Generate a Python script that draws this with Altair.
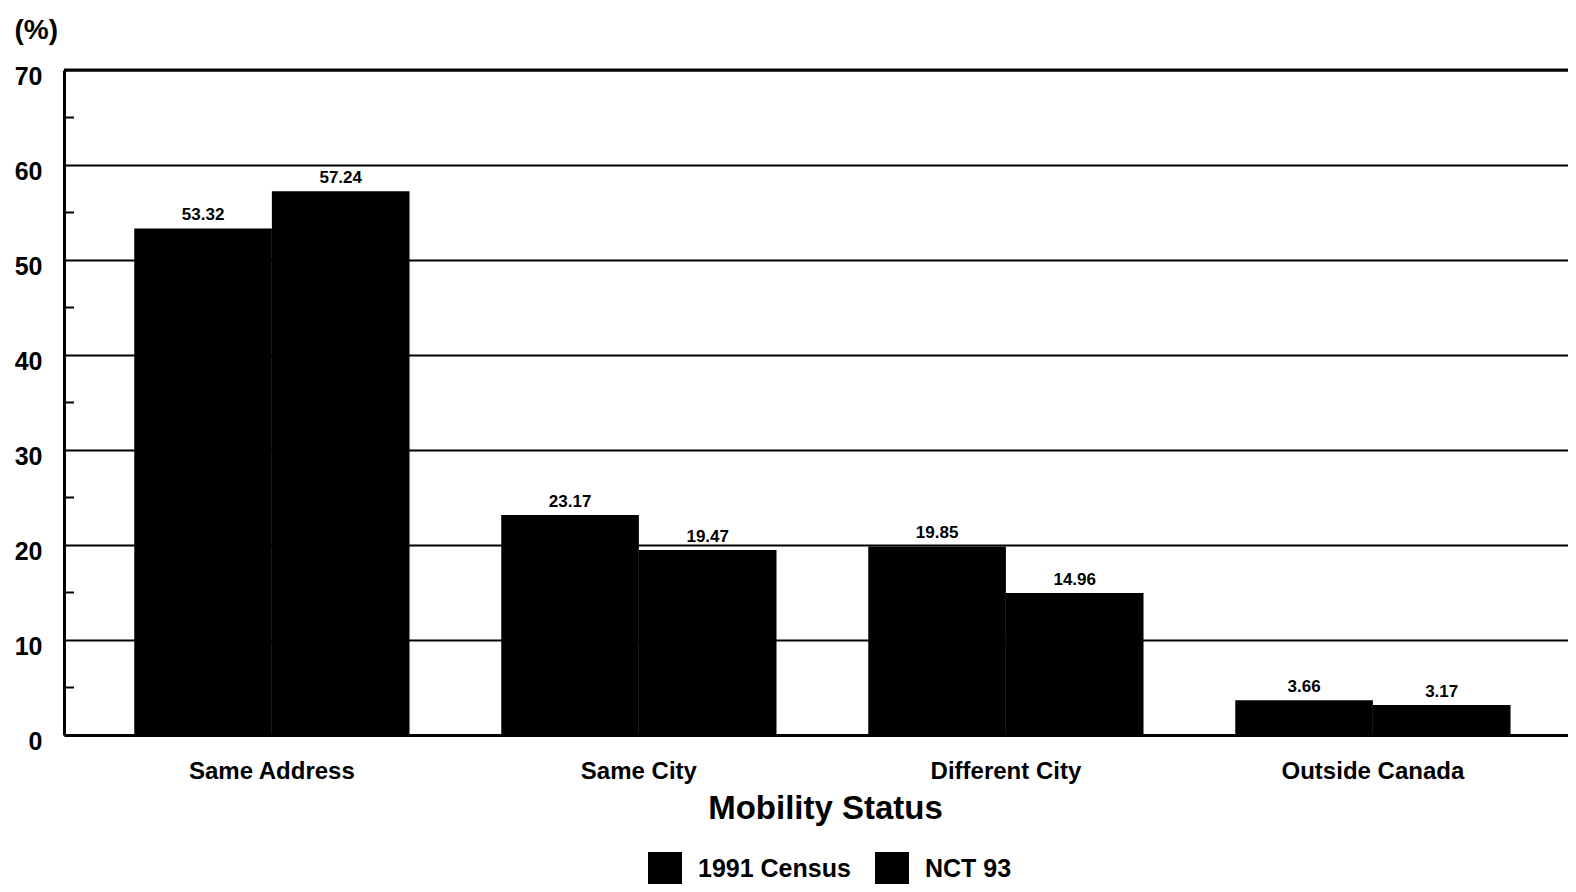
import altair as alt
import pandas as pd

categories = ["Same Address", "Same City", "Different City", "Outside Canada"]
series = ["1991 Census", "NCT 93"]
census_1991 = [53.32, 23.17, 19.85, 3.66]
nct_93 = [57.24, 19.47, 14.96, 3.17]
y_ticks = [0, 10, 20, 30, 40, 50, 60, 70]
minor_ticks = [5, 15, 25, 35, 45, 55, 65]
top_line = [70]

rows = []
for c, a, b in zip(categories, census_1991, nct_93):
    rows.append({"status": c, "series": series[0], "value": a, "label": f"{a:.2f}"})
    rows.append({"status": c, "series": series[1], "value": b, "label": f"{b:.2f}"})
df = pd.DataFrame(rows)

FONT = "Liberation Sans"

x_enc = alt.X(
    "status:N",
    sort=categories,
    scale=alt.Scale(paddingInner=0.25, paddingOuter=0.174, align=0.55),
    axis=alt.Axis(
        title="Mobility Status",
        labelAngle=0,
        labelFont=FONT,
        labelFontSize=24,
        labelFontWeight="bold",
        labelColor="black",
        labelPadding=24,
        labelLimit=0,
        ticks=False,
        domain=True,
        domainColor="black",
        domainWidth=3,
        titleFont=FONT,
        titleFontSize=33,
        titleFontWeight="bold",
        titleColor="black",
        titlePadding=9,
        titleX=761,
    ),
)
xo_enc = alt.XOffset("series:N", sort=series, scale=alt.Scale(paddingInner=0, paddingOuter=0))
y_scale = alt.Scale(domain=[0, 70], nice=False)
y_enc = alt.Y(
    "value:Q",
    scale=y_scale,
    axis=alt.Axis(
        values=y_ticks,
        title="(%)",
        titleAngle=0,
        titleX=-50,
        titleY=-32,
        titleAlign="left",
        titleBaseline="alphabetic",
        titleFont=FONT,
        titleFontSize=28,
        titleFontWeight="bold",
        titleColor="black",
        labelFont=FONT,
        labelFontSize=25,
        labelFontWeight="bold",
        labelColor="black",
        labelPadding=22,
        labelOffset=6,
        ticks=False,
        tickSize=0,
        domain=True,
        domainColor="black",
        domainWidth=3,
        grid=True,
        gridColor="black",
        gridWidth=2,
        gridOpacity=1,
    ),
)

base = alt.Chart(df)

bars = base.mark_bar(color="black").encode(
    x=x_enc,
    xOffset=xo_enc,
    y=y_enc,
    color=alt.Color(
        "series:N",
        sort=series,
        scale=alt.Scale(domain=series, range=["black", "black"]),
        legend=alt.Legend(
            title=None,
            orient="none",
            legendX=584,
            legendY=782,
            direction="horizontal",
            symbolType="square",
            symbolSize=1156,
            symbolStrokeWidth=0,
            symbolOpacity=1,
            labelFont=FONT,
            labelFontSize=25,
            labelFontWeight="bold",
            labelColor="black",
            labelOffset=16,
            columnPadding=24,
        ),
    ),
)

texts = base.mark_text(
    baseline="bottom", dy=-4, font=FONT, fontSize=17, fontWeight="bold", color="black"
).encode(
    x=alt.X("status:N", sort=categories),
    xOffset=alt.XOffset("series:N", sort=series),
    y=alt.Y("value:Q"),
    text="label:N",
)

minor = alt.Chart(pd.DataFrame({"v": minor_ticks})).mark_rule(color="black", strokeWidth=2).encode(
    y=alt.Y("v:Q", scale=y_scale),
    x=alt.value(0),
    x2=alt.value(10),
)

top = alt.Chart(pd.DataFrame({"v": top_line})).mark_rule(color="black", strokeWidth=3).encode(
    y=alt.Y("v:Q", scale=y_scale),
    x=alt.value(0),
    x2=alt.value(1504),
)

chart = (
    alt.layer(bars, texts, minor, top)
    .properties(
        width=1504,
        height=665,
        autosize=alt.AutoSizeParams(type="none"),
        padding={"left": 56, "top": 62, "right": 0, "bottom": 149},
        background="white",
    )
    .configure_view(stroke=None)
)

chart.save("out.html", embed_options={"renderer": "svg", "actions": False})
